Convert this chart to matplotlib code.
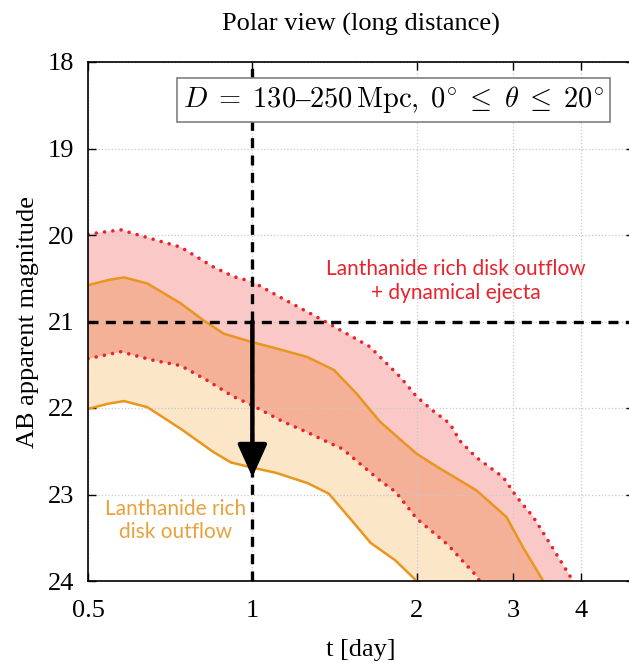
import matplotlib
matplotlib.use("Agg")
import matplotlib.pyplot as plt
import numpy as np

# lanthanide rich disk outflow + dynamical ejecta (red dotted band)
t_red_up = [0.5, 0.574, 0.651, 0.739, 0.849, 0.923, 1.0, 1.125, 1.35, 1.64, 1.714, 1.865,
            2.0, 2.14, 2.30, 2.40, 2.57, 2.88, 3.05, 3.27, 3.51, 3.84, 3.88]
m_red_up = [19.99, 19.94, 20.04, 20.14, 20.37, 20.48, 20.54, 20.72, 20.99, 21.29, 21.41, 21.64,
            21.87, 22.03, 22.18, 22.38, 22.57, 22.80, 23.03, 23.26, 23.57, 23.97, 24.05]
t_red_lo = [0.5, 0.574, 0.66, 0.739, 0.826, 0.924, 1.0, 1.14, 1.26, 1.39, 1.46, 1.714, 1.83,
            2.0, 2.28, 2.42, 2.59, 2.62]
m_red_lo = [21.43, 21.35, 21.45, 21.51, 21.68, 21.87, 21.97, 22.16, 22.28, 22.41, 22.47, 22.84, 22.97,
            23.28, 23.58, 23.76, 23.96, 24.05]

# lanthanide rich disk outflow (orange solid band)
t_or_up = [0.5, 0.545, 0.582, 0.642, 0.739, 0.815, 0.886, 1.0, 1.09, 1.26, 1.41, 1.55, 1.714,
           2.0, 2.18, 2.57, 2.92, 3.13, 3.41, 3.45]
m_or_up = [20.58, 20.52, 20.49, 20.56, 20.79, 20.99, 21.14, 21.24, 21.30, 21.41, 21.56, 21.83, 22.16,
           22.53, 22.68, 22.95, 23.26, 23.61, 24.0, 24.05]
t_or_lo = [0.5, 0.545, 0.582, 0.642, 0.739, 0.849, 0.914, 1.0, 1.106, 1.264, 1.38, 1.53, 1.647,
           1.826, 2.0, 2.02]
m_or_lo = [22.01, 21.95, 21.92, 21.99, 22.24, 22.51, 22.63, 22.69, 22.75, 22.87, 22.99, 23.32, 23.56,
           23.76, 24.0, 24.05]

xticks = [0.5, 1, 2, 3, 4]
yticks = [18, 19, 20, 21, 22, 23, 24]

red = '#e8232c'
orange = '#e8961e'

plt.rcParams['font.family'] = ['Liberation Serif', 'DejaVu Serif']
plt.rcParams['mathtext.fontset'] = 'cm'

fig = plt.figure(figsize=(6.29, 6.69), dpi=100)
ax = fig.add_axes([88/629, 88/669, (634-88)/629, (581-62)/669])

def band(tu, mu, tl, ml):
    return np.concatenate([tu, tl[::-1]]), np.concatenate([mu, ml[::-1]])

x, y = band(t_red_up, m_red_up, t_red_lo, m_red_lo)
ax.fill(x, y, color='#fbc8c8', lw=0, zorder=1)
x, y = band(t_or_up, m_or_up, t_or_lo, m_or_lo)
ax.fill(x, y, color='#fbe6c8', lw=0, zorder=1)
x, y = band(t_or_up, m_or_up, t_red_lo, m_red_lo)
ax.fill(x, y, color='#f5b197', lw=0, zorder=1.5)

dots = (0, (0.01, 2.3))
ax.plot(t_red_up, m_red_up, color=red, lw=2.6, ls=dots, dash_capstyle='round', zorder=3)
ax.plot(t_red_lo, m_red_lo, color=red, lw=2.6, ls=dots, dash_capstyle='round', zorder=3)
ax.plot(t_or_up, m_or_up, color=orange, lw=1.8, zorder=3)
ax.plot(t_or_lo, m_or_lo, color=orange, lw=1.8, zorder=3)

# 21 mag limit and 1 day
ax.axhline(21, color='k', lw=2.4, ls=(0, (3, 2.2)), zorder=4)
ax.axvline(1, color='k', lw=2.4, ls=(0, (3, 2.2)), zorder=4)
ax.annotate('', xy=(1, 22.8), xytext=(1, 21),
            arrowprops=dict(arrowstyle='-|>,head_length=1.0,head_width=0.45', mutation_scale=20,
                            lw=3.2, color='k', shrinkA=0, shrinkB=0), zorder=5)

ax.text(2.36, 20.53, 'Lanthanide rich disk outflow\n+ dynamical ejecta', color=red,
        family='Lato', fontsize=15, ha='center', va='center', linespacing=1.25, zorder=6)
ax.text(0.723, 23.30, 'Lanthanide rich\ndisk outflow', color='#e9a23b',
        family='Lato', fontsize=15, ha='center', va='center', linespacing=1.2, zorder=6)

ax.text(0.56, 0.927,
        r'$D\;=\;130$–$250\,\mathrm{Mpc},\;0^{\circ}\;\leq\;\theta\;\leq\;20^{\circ}$',
        transform=ax.transAxes, fontsize=20.5, ha='center', va='center', zorder=7,
        bbox=dict(boxstyle='square,pad=0.22', fc='white', ec='#808080', lw=1.2))

ax.set_xscale('log')
ax.set_xlim(0.5, 5.0)
ax.set_ylim(24, 18)
ax.set_xticks(xticks)
ax.set_xticklabels([str(v) for v in xticks])
ax.xaxis.set_minor_locator(matplotlib.ticker.NullLocator())
ax.set_yticks(yticks)
ax.tick_params(direction='in', top=True, right=True, length=6, width=1, labelsize=19)
ax.tick_params(axis='x', pad=14)
ax.tick_params(axis='y', pad=10)
ax.grid(color='#c8c8c8', ls=':', lw=0.9)
ax.set_axisbelow(False)
for s in ax.spines.values():
    s.set_linewidth(1.2)
    s.set_zorder(8)

ax.set_xlabel('t [day]', fontsize=19, labelpad=12)
ax.set_ylabel('AB apparent magnitude', fontsize=19, labelpad=6)
fig.text(361/629, 1 - 24/669, 'Polar view (long distance)', fontsize=19, ha='center', va='center')

fig.savefig('out.png', dpi=100)
